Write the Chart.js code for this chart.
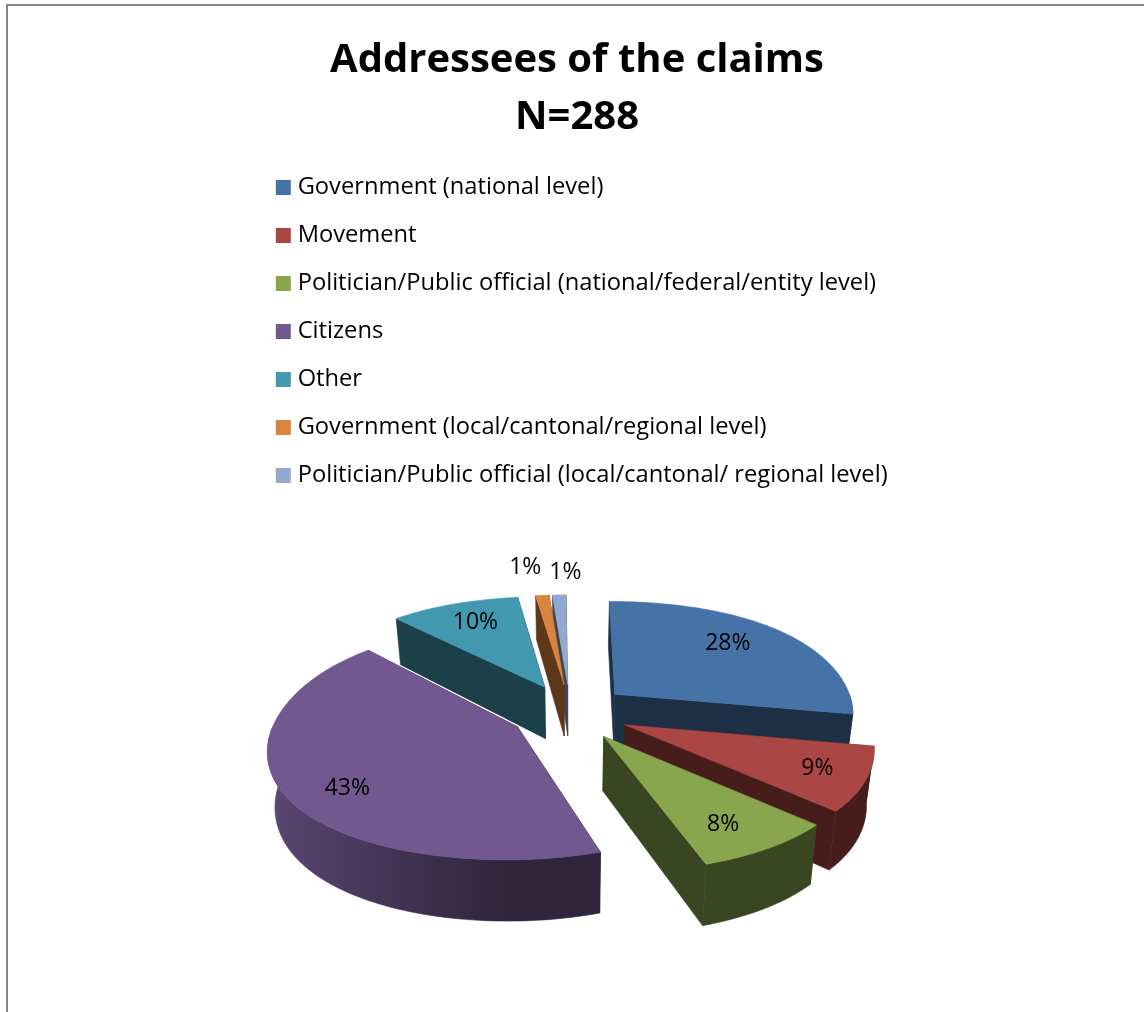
<!DOCTYPE html>
<html>
<head>
<meta charset="utf-8">
<title>Addressees of the claims</title>
<script src="https://cdn.jsdelivr.net/npm/chart.js@4/dist/chart.umd.min.js"></script>
<style>
  html, body { margin: 0; padding: 0; background: #fff; }
  canvas { display: block; }
</style>
</head>
<body>
<canvas id="pieChart" width="1144" height="1012"></canvas>
<script>
// ---- Data ----
const titleLines = ['Addressees of the claims', 'N=288'];
const categories = [
  'Government (national level)',
  'Movement',
  'Politician/Public official (national/federal/entity level)',
  'Citizens',
  'Other',
  'Government (local/cantonal/regional level)',
  'Politician/Public official (local/cantonal/ regional level)'
];
const shares = [28, 9, 8, 43, 10, 1, 1];

// ---- Styles ----
const sliceColors = ['#4572a7', '#aa4643', '#89a54e', '#71588f', '#4198af', '#db843d', '#93a9cf'];
const FONT = '"Open Sans", "Noto Sans", sans-serif';

// Tilted view of the pie: screen centre, vertical squash, perspective, wall height
const view = {
  cx: 570, cy: 712, squash: 0.472, wall: 53, taper: 0.025,
  perspY: 0.138, perspX: 0.152, perspX2: 0.056
};

// Distance of each percentage from the slice tip (1 = rim), plus a nudge where the label sits off-axis
const labelRadius = [0.7, 0.8, 0.8, 0.75, 0.75, 1.36, 1.33];
const labelNudgeX = [-4, 3, -8, 2, 0, -9, 9];
const labelNudgeY = [-5, 0, 0, 14, 0, -3, 0];

function shade(hex, f) {
  const n = parseInt(hex.slice(1), 16);
  const r = Math.round((n >> 16 & 255) * f);
  const g = Math.round((n >> 8 & 255) * f);
  const b = Math.round((n & 255) * f);
  return `rgb(${r},${g},${b})`;
}

// Ground plane point -> screen; drop = 1 gives the bottom edge of the wall
function project(x, z, R, drop) {
  const t = z / R;
  const sy = 1 + view.perspY * t;
  const sx = (1 + view.perspX * t + view.perspX2 * t * t) * (1 - view.taper * drop);
  return {
    x: view.cx + x * sx,
    y: view.cy + view.squash * z * sy + view.wall * drop * sy
  };
}

function fillPoly(ctx, pts, color) {
  ctx.beginPath();
  pts.forEach((p, i) => { if (i) ctx.lineTo(p.x, p.y); else ctx.moveTo(p.x, p.y); });
  ctx.closePath();
  ctx.fillStyle = color;
  ctx.strokeStyle = color;
  ctx.lineWidth = 0.6;
  ctx.fill();
  ctx.stroke();
}

// Walls get lighter towards the left side of the pie
function wallFactor(angle) {
  return 0.42 + 0.43 * Math.max(0, -Math.cos(angle));
}

function anglesBetween(a0, a1) {
  const steps = Math.max(2, Math.ceil((a1 - a0) * 40));
  const out = [];
  for (let i = 0; i <= steps; i++) out.push(a0 + (a1 - a0) * i / steps);
  return out;
}

function drawSlice(ctx, arc, color) {
  const R = arc.outerRadius;
  const mid = (arc.startAngle + arc.endAngle) / 2;
  const off = (arc.options.offset || 0) / 4;
  const ox = Math.cos(mid) * off;
  const oz = Math.sin(mid) * off;
  const rimAt = (a, drop) => project(ox + Math.cos(a) * R, oz + Math.sin(a) * R, R, drop);
  const tipTop = project(ox, oz, R, 0);
  const tipBottom = project(ox, oz, R, 1);
  const dark = shade(color, 0.42);

  // outer wall, only the part that faces the viewer (angles 0..PI point down the screen)
  const lo = Math.max(arc.startAngle, 0);
  const hi = Math.min(arc.endAngle, Math.PI);
  if (hi > lo) {
    const wallAngles = anglesBetween(lo, hi);
    const upper = wallAngles.map(a => rimAt(a, 0));
    const lower = wallAngles.map(a => rimAt(a, 1)).reverse();
    const xRight = upper[0].x;
    const xLeft = upper[upper.length - 1].x;
    const grad = ctx.createLinearGradient(xLeft, 0, xRight, 0);
    upper.forEach((p, i) => {
      const stop = Math.min(1, Math.max(0, (p.x - xLeft) / (xRight - xLeft)));
      grad.addColorStop(stop, shade(color, wallFactor(wallAngles[i])));
    });
    fillPoly(ctx, upper.concat(lower), grad);
  }

  // cut faces, the top face hides whichever one points away
  [arc.startAngle, arc.endAngle].forEach(a => {
    fillPoly(ctx, [tipTop, rimAt(a, 0), rimAt(a, 1), tipBottom], dark);
  });

  const top = [tipTop].concat(anglesBetween(arc.startAngle, arc.endAngle).map(a => rimAt(a, 0)));
  fillPoly(ctx, top, color);
}

const tiltedPie = {
  id: 'tiltedPie',
  beforeDraw(chart) {
    const ctx = chart.ctx;
    ctx.save();
    ctx.fillStyle = '#fff';
    ctx.fillRect(0, 0, chart.width, chart.height);
    // frame of the chart object, only left and top are on the page
    ctx.fillStyle = '#868686';
    ctx.fillRect(6, 4, chart.width - 6, 2);
    ctx.fillRect(6, 4, 2, chart.height - 4);
    ctx.restore();
  },
  // the legend keeps its own drawing, it only gets moved and unclipped
  afterLayout(chart) {
    const lg = chart.legend;
    lg.left = 256.5;
    lg.top = 151.4;
    lg.right = chart.width;
    lg.bottom = chart.height;
  },
  beforeDatasetDraw(chart) {
    const ctx = chart.ctx;
    const arcs = chart.getDatasetMeta(0).data;

    // paint back to front
    const order = arcs.map((a, i) => i).sort((p, q) => {
      const mp = (arcs[p].startAngle + arcs[p].endAngle) / 2;
      const mq = (arcs[q].startAngle + arcs[q].endAngle) / 2;
      return Math.sin(mp) - Math.sin(mq);
    });
    ctx.save();
    order.forEach(i => drawSlice(ctx, arcs[i], sliceColors[i]));

    ctx.fillStyle = '#000';
    ctx.font = '23px ' + FONT;
    ctx.textAlign = 'center';
    ctx.textBaseline = 'middle';
    arcs.forEach((arc, i) => {
      const R = arc.outerRadius;
      const mid = (arc.startAngle + arc.endAngle) / 2;
      const off = (arc.options.offset || 0) / 4;
      const dist = off + R * labelRadius[i];
      const p = project(Math.cos(mid) * dist, Math.sin(mid) * dist, R, 0);
      ctx.fillText(shares[i] + '%', p.x + labelNudgeX[i], p.y + labelNudgeY[i]);
    });
    ctx.restore();
    return false;
  }
};

new Chart(document.getElementById('pieChart'), {
  type: 'pie',
  data: {
    labels: categories,
    datasets: [{
      data: shares,
      backgroundColor: sliceColors,
      borderWidth: 0,
      offset: 240
    }]
  },
  options: {
    responsive: false,
    animation: false,
    radius: 240,
    rotation: -0.5,
    layout: { padding: { left: 10, top: 32 } },
    plugins: {
      tooltip: { enabled: false },
      title: {
        display: true,
        text: titleLines,
        color: '#000',
        font: { family: FONT, size: 40, weight: 'bold', lineHeight: 1.425 },
        padding: { top: 0, bottom: 12 }
      },
      legend: {
        position: 'left',
        align: 'start',
        labels: {
          color: '#000',
          font: { family: FONT, size: 23.7 },
          usePointStyle: true,
          pointStyle: 'rect',
          boxWidth: 5,
          boxHeight: 15,
          padding: 24.3
        }
      }
    }
  },
  plugins: [tiltedPie]
});
</script>
</body>
</html>
